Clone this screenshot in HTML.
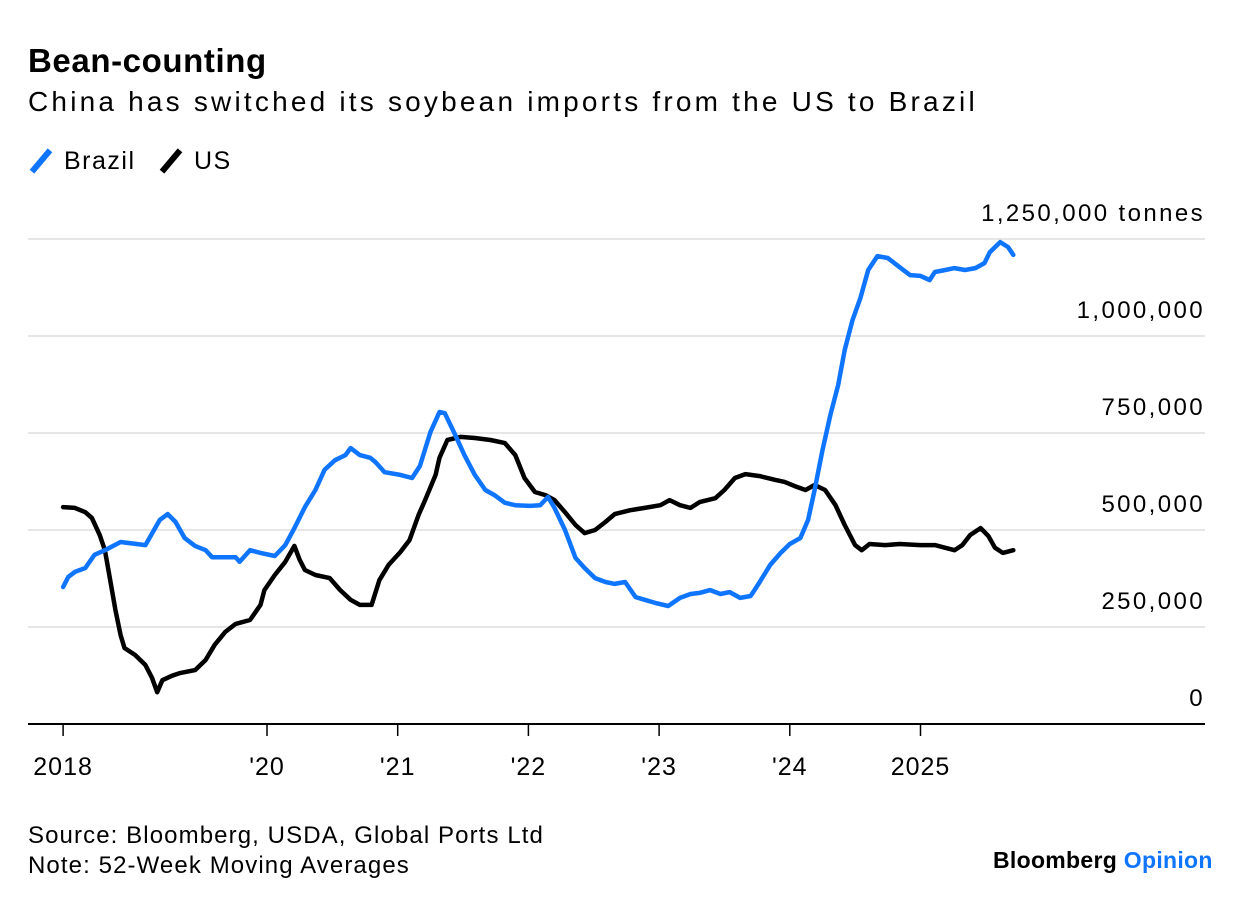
<!DOCTYPE html>
<html><head><meta charset="utf-8">
<style>
body{margin:0;background:#fff;width:1240px;height:906px;overflow:hidden;font-family:"Liberation Sans",Arial,sans-serif;color:#000}
.t{position:absolute;white-space:nowrap}
</style></head>
<body>
<div class="t" style="left:28px;top:42px;font-size:33px;font-weight:bold;letter-spacing:0.6px">Bean-counting</div>
<div class="t" style="left:28px;top:86px;font-size:28px;letter-spacing:3.2px">China has switched its soybean imports from the US to Brazil</div>
<div class="t" style="left:28px;top:147px;font-size:25px;letter-spacing:1.5px"><span style="display:inline-block;width:6px;height:28px;background:#0f75ff;transform:rotate(40deg);vertical-align:-6px;margin:0 20px 0 10px"></span>Brazil</div>
<div class="t" style="left:158px;top:147px;font-size:25px;letter-spacing:1.5px"><span style="display:inline-block;width:6px;height:28px;background:#000;transform:rotate(40deg);vertical-align:-6px;margin:0 20px 0 10px"></span>US</div>
<svg id="chart" width="1240" height="906" style="position:absolute;left:0;top:0"></svg>
<div class="t" style="left:28px;top:821px;font-size:24px;line-height:30px;letter-spacing:1.1px">Source: Bloomberg, USDA, Global Ports Ltd<br>Note: 52-Week Moving Averages</div>
<div class="t" style="left:993px;top:847px;font-size:23px;font-weight:bold;letter-spacing:0.3px">Bloomberg <span style="color:#0f75ff">Opinion</span></div>
<script>
const yTicks=[0,250000,500000,750000,1000000,1250000];
const yTickLabels=["0","250,000","500,000","750,000","1,000,000","1,250,000 tonnes"];
const xTicks=[2018.44,2020,2021,2022,2023,2024,2025];
const xTickLabels=["2018","'20","'21","'22","'23","'24","2025"];
const brazilDates=[2018.44,2018.48,2018.53,2018.61,2018.68,2018.76,2018.88,2019.07,2019.10,2019.18,2019.24,2019.30,2019.37,2019.45,2019.53,2019.58,2019.68,2019.76,2019.79,2019.87,2019.95,2020.06,2020.14,2020.21,2020.29,2020.37,2020.44,2020.52,2020.60,2020.64,2020.71,2020.79,2020.83,2020.90,2021.02,2021.11,2021.17,2021.25,2021.32,2021.36,2021.44,2021.51,2021.59,2021.67,2021.74,2021.82,2021.90,2022.01,2022.09,2022.15,2022.20,2022.28,2022.36,2022.43,2022.51,2022.59,2022.66,2022.74,2022.82,2022.89,2022.97,2023.07,2023.16,2023.24,2023.31,2023.39,2023.47,2023.54,2023.62,2023.70,2023.73,2023.77,2023.85,2023.93,2024.00,2024.08,2024.14,2024.19,2024.25,2024.31,2024.37,2024.42,2024.48,2024.54,2024.60,2024.67,2024.75,2024.83,2024.92,2025.00,2025.07,2025.11,2025.19,2025.26,2025.34,2025.42,2025.49,2025.53,2025.61,2025.67,2025.71];
const brazilValues=[353,379,392,402,436,448,469,461,479,526,541,521,479,459,448,430,430,430,418,448,441,433,461,505,559,603,655,680,693,711,693,686,675,649,642,634,665,752,804,801,745,693,642,603,590,570,564,562,564,585,557,500,428,402,376,366,361,366,327,320,312,304,325,335,338,345,335,340,325,330,345,366,410,441,464,479,526,603,706,796,874,964,1041,1098,1170,1206,1201,1180,1157,1155,1144,1165,1170,1175,1170,1175,1188,1216,1242,1229,1209];
const usDates=[2018.44,2018.53,2018.61,2018.66,2018.72,2018.76,2018.80,2018.84,2018.88,2018.91,2018.99,2019.07,2019.12,2019.16,2019.20,2019.27,2019.33,2019.45,2019.53,2019.60,2019.68,2019.76,2019.87,2019.95,2019.98,2020.06,2020.14,2020.21,2020.25,2020.29,2020.37,2020.48,2020.56,2020.64,2020.71,2020.80,2020.86,2020.93,2021.02,2021.09,2021.16,2021.21,2021.29,2021.32,2021.38,2021.48,2021.59,2021.71,2021.82,2021.90,2021.97,2022.05,2022.13,2022.20,2022.28,2022.36,2022.43,2022.51,2022.59,2022.66,2022.78,2022.89,2023.01,2023.08,2023.16,2023.24,2023.31,2023.43,2023.50,2023.58,2023.66,2023.77,2023.89,2023.96,2024.04,2024.12,2024.19,2024.27,2024.35,2024.42,2024.50,2024.55,2024.61,2024.73,2024.84,2025.00,2025.11,2025.19,2025.26,2025.32,2025.38,2025.46,2025.52,2025.57,2025.63,2025.71];
const usValues=[559,557,546,531,487,448,371,294,229,196,178,152,119,82,113,124,131,139,165,204,237,258,268,307,345,384,418,459,423,397,384,376,345,320,307,307,371,410,443,474,539,577,642,686,732,740,737,732,724,693,634,598,590,577,546,513,492,500,521,541,551,557,564,577,564,557,572,582,603,634,644,639,629,624,613,603,616,603,564,513,461,448,464,461,464,461,461,454,448,461,487,505,484,454,441,448];
const NS="http://www.w3.org/2000/svg";
const svg=document.getElementById('chart');
const X=t=>267+(t-2020)*130.7;
const Y=v=>724-v/250000*97;
function mk(tag,attrs){const e=document.createElementNS(NS,tag);for(const k in attrs)e.setAttribute(k,attrs[k]);svg.appendChild(e);return e;}
yTicks.forEach((v,i)=>{
  if(v>0){const g=mk('line',{x1:28,x2:1205,y1:Y(v),y2:Y(v),stroke:'#e6e6e6','stroke-width':2});
  
  }
  const t=mk('text',{x:1205,y:Y(v)-18,'text-anchor':'end','font-size':24,'letter-spacing':'2.4','font-family':'Liberation Sans, Arial, sans-serif',fill:'#000'});
  t.textContent=yTickLabels[i];
  
  
});
const ax=mk('line',{x1:28,x2:1205,y1:724,y2:724,stroke:'#000','stroke-width':2});


xTicks.forEach((t,i)=>{
  const tk=mk('line',{x1:X(t),x2:X(t),y1:724,y2:736,stroke:'#000','stroke-width':1.5});
  
  
  const l=mk('text',{x:X(t),y:775,'text-anchor':'middle','font-size':25,'letter-spacing':'1','font-family':'Liberation Sans, Arial, sans-serif',fill:'#000'});
  l.textContent=xTickLabels[i];
  
  
});
function line(d,v,color,name){
  const pts=d.map((t,i)=>X(t).toFixed(1)+','+Y(v[i]*1000).toFixed(1)).join(' ');
  const p=mk('polyline',{points:pts,fill:'none',stroke:color,'stroke-width':4.5,'stroke-linejoin':'round','stroke-linecap':'round'});
  
  
}
line(usDates,usValues,'#000','us-line');
line(brazilDates,brazilValues,'#0f75ff','brazil-line');
</script>
</body></html>
